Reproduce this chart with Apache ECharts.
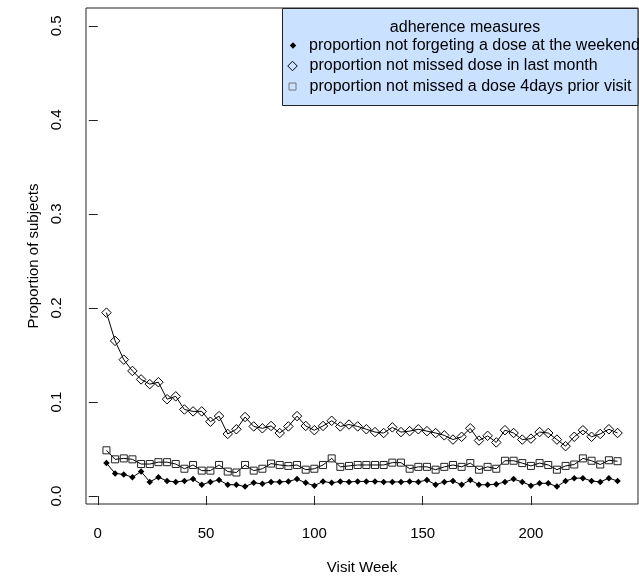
<!DOCTYPE html>
<html>
<head>
<meta charset="utf-8">
<title>adherence measures</title>
<script src="https://cdn.jsdelivr.net/npm/echarts@6/dist/echarts.min.js"></script>
<style>
*{margin:0;padding:0}
#main{width:639px;height:580px;background:#fff}
</style>
</head>
<body>
<div id="main"></div>
<script>
// visit weeks (every 4 weeks)
var weeks = [4, 8, 12, 16, 20, 24, 28, 32, 36, 40,
             44, 48, 52, 56, 60, 64, 68, 72, 76, 80,
             84, 88, 92, 96, 100, 104, 108, 112, 116, 120,
             124, 128, 132, 136, 140, 144, 148, 152, 156, 160,
             164, 168, 172, 176, 180, 184, 188, 192, 196, 200,
             204, 208, 212, 216, 220, 224, 228, 232, 236, 240];

var notForgetWeekend = [0.035, 0.024, 0.023, 0.020, 0.026, 0.015, 0.020, 0.016, 0.015, 0.016,
                        0.018, 0.012, 0.015, 0.017, 0.012, 0.012, 0.010, 0.014, 0.013, 0.015,
                        0.015, 0.0155, 0.018, 0.014, 0.011, 0.0155, 0.014, 0.0155, 0.015, 0.0155,
                        0.0155, 0.0155, 0.015, 0.015, 0.015, 0.0155, 0.015, 0.017, 0.012, 0.015,
                        0.016, 0.012, 0.017, 0.012, 0.012, 0.0125, 0.015, 0.018, 0.015, 0.011,
                        0.0135, 0.0135, 0.010, 0.016, 0.019, 0.019, 0.016, 0.015, 0.019, 0.016];

var notMissedMonth = [0.195, 0.165, 0.145, 0.133, 0.124, 0.119, 0.121, 0.103, 0.106, 0.092,
                      0.090, 0.090, 0.079, 0.085, 0.066, 0.071, 0.084, 0.074, 0.072, 0.0745,
                      0.067, 0.074, 0.085, 0.0745, 0.070, 0.0745, 0.080, 0.074, 0.076, 0.074,
                      0.071, 0.068, 0.067, 0.073, 0.068, 0.069, 0.071, 0.069, 0.067, 0.0645,
                      0.060, 0.063, 0.072, 0.059, 0.064, 0.057, 0.070, 0.067, 0.060, 0.061,
                      0.068, 0.067, 0.060, 0.053, 0.063, 0.070, 0.063, 0.066, 0.071, 0.067];

var notMissed4days = [0.0486, 0.039, 0.040, 0.039, 0.034, 0.034, 0.036, 0.036, 0.034, 0.029,
                      0.033, 0.027, 0.027, 0.033, 0.026, 0.025, 0.033, 0.027, 0.029, 0.0345,
                      0.033, 0.032, 0.033, 0.028, 0.029, 0.033, 0.040, 0.031, 0.032, 0.033,
                      0.033, 0.033, 0.033, 0.0355, 0.0355, 0.029, 0.031, 0.031, 0.028, 0.031,
                      0.033, 0.031, 0.035, 0.028, 0.031, 0.029, 0.0375, 0.0375, 0.035, 0.032,
                      0.035, 0.033, 0.028, 0.032, 0.0335, 0.040, 0.0375, 0.0335, 0.038, 0.037];

var xTicks = [0, 50, 100, 150, 200];
var yTicks = [0, 0.1, 0.2, 0.3, 0.4, 0.5];
var seriesNames = ['proportion not forgeting a dose at the weekend',
                   'proportion not missed dose in last month',
                   'proportion not missed a dose 4days prior visit'];

function pairs(vals) {
    return weeks.map(function (w, i) { return [w, vals[i]]; });
}

var font = '"Liberation Sans", Arial, sans-serif';
var myChart = echarts.init(document.getElementById('main'), null, {renderer: 'canvas'});

// one legend per row so each marker can keep its own size
function legendRow(name, icon, size, cx, cy, style) {
    return {
        data: [{name: name, icon: icon, itemStyle: style}],
        left: cx - size / 2,
        top: cy - 9,
        padding: 0,
        itemWidth: size,
        itemHeight: size,
        selectedMode: false,
        textStyle: {fontFamily: font, fontSize: 16, color: '#000', lineHeight: 18,
                    padding: [0, 0, 0, 309 - (cx + size / 2 + 5)]}
    };
}

var option = {
    animation: false,
    backgroundColor: '#fff',
    textStyle: {fontFamily: font},
    grid: {left: 86, right: 1, top: 8, bottom: 76, show: true,
           borderColor: '#222', borderWidth: 1, backgroundColor: 'transparent'},
    title: {
        text: 'adherence measures',
        left: 460, top: 15, textAlign: 'center',
        textStyle: {fontFamily: font, fontSize: 16, fontWeight: 'normal', color: '#000'}
    },
    graphic: [{
        type: 'rect', z: 0,
        shape: {x: 282.5, y: 8.5, width: 355.5, height: 97},
        style: {fill: '#cae1ff', stroke: '#222', lineWidth: 1}
    }],
    legend: [
        legendRow(seriesNames[0], 'diamond', 6.5, 293, 45.5, {color: '#000', borderWidth: 0}),
        legendRow(seriesNames[1], 'diamond', 9.5, 292, 66, {color: 'transparent', borderColor: '#000', borderWidth: 1}),
        legendRow(seriesNames[2], 'rect', 7, 292, 86.5, {color: 'transparent', borderColor: '#777', borderWidth: 1})
    ],
    xAxis: {
        type: 'value',
        min: -5.44, max: 249.44,
        name: 'Visit Week', nameLocation: 'middle', nameGap: 56,
        nameTextStyle: {fontFamily: font, fontSize: 15, color: '#000'},
        axisLine: {show: false},
        axisTick: {show: true, length: 9, customValues: xTicks, lineStyle: {color: '#222'}},
        axisLabel: {customValues: xTicks, margin: 22, fontFamily: font, fontSize: 15, color: '#000'},
        splitLine: {show: false}
    },
    yAxis: {
        type: 'value',
        min: -0.0085, max: 0.519,
        name: 'Proportion of subjects', nameLocation: 'middle', nameGap: 44, nameRotate: 90,
        nameTextStyle: {fontFamily: font, fontSize: 15, color: '#000'},
        axisLine: {show: false},
        axisTick: {show: true, length: 9, customValues: yTicks, lineStyle: {color: '#222'}},
        axisLabel: {customValues: yTicks, rotate: 90, margin: 22, fontFamily: font, fontSize: 15, color: '#000',
                    formatter: function (v) { return v.toFixed(1); }},
        splitLine: {show: false}
    },
    series: [{
        name: seriesNames[0],
        type: 'line',
        data: pairs(notForgetWeekend),
        symbol: 'diamond', symbolSize: 6.5,
        lineStyle: {color: '#000', width: 1},
        itemStyle: {color: '#000', borderWidth: 0},
        z: 3
    }, {
        name: seriesNames[1],
        type: 'line',
        data: pairs(notMissedMonth),
        symbol: 'diamond', symbolSize: 9.5,
        lineStyle: {color: '#000', width: 1},
        itemStyle: {color: 'transparent', borderColor: '#000', borderWidth: 1},
        z: 3
    }, {
        name: seriesNames[2],
        type: 'line',
        data: pairs(notMissed4days),
        symbol: 'rect', symbolSize: 7,
        lineStyle: {color: '#000', width: 1},
        itemStyle: {color: 'transparent', borderColor: '#222', borderWidth: 1},
        z: 3
    }]
};

myChart.setOption(option);
</script>
</body>
</html>
